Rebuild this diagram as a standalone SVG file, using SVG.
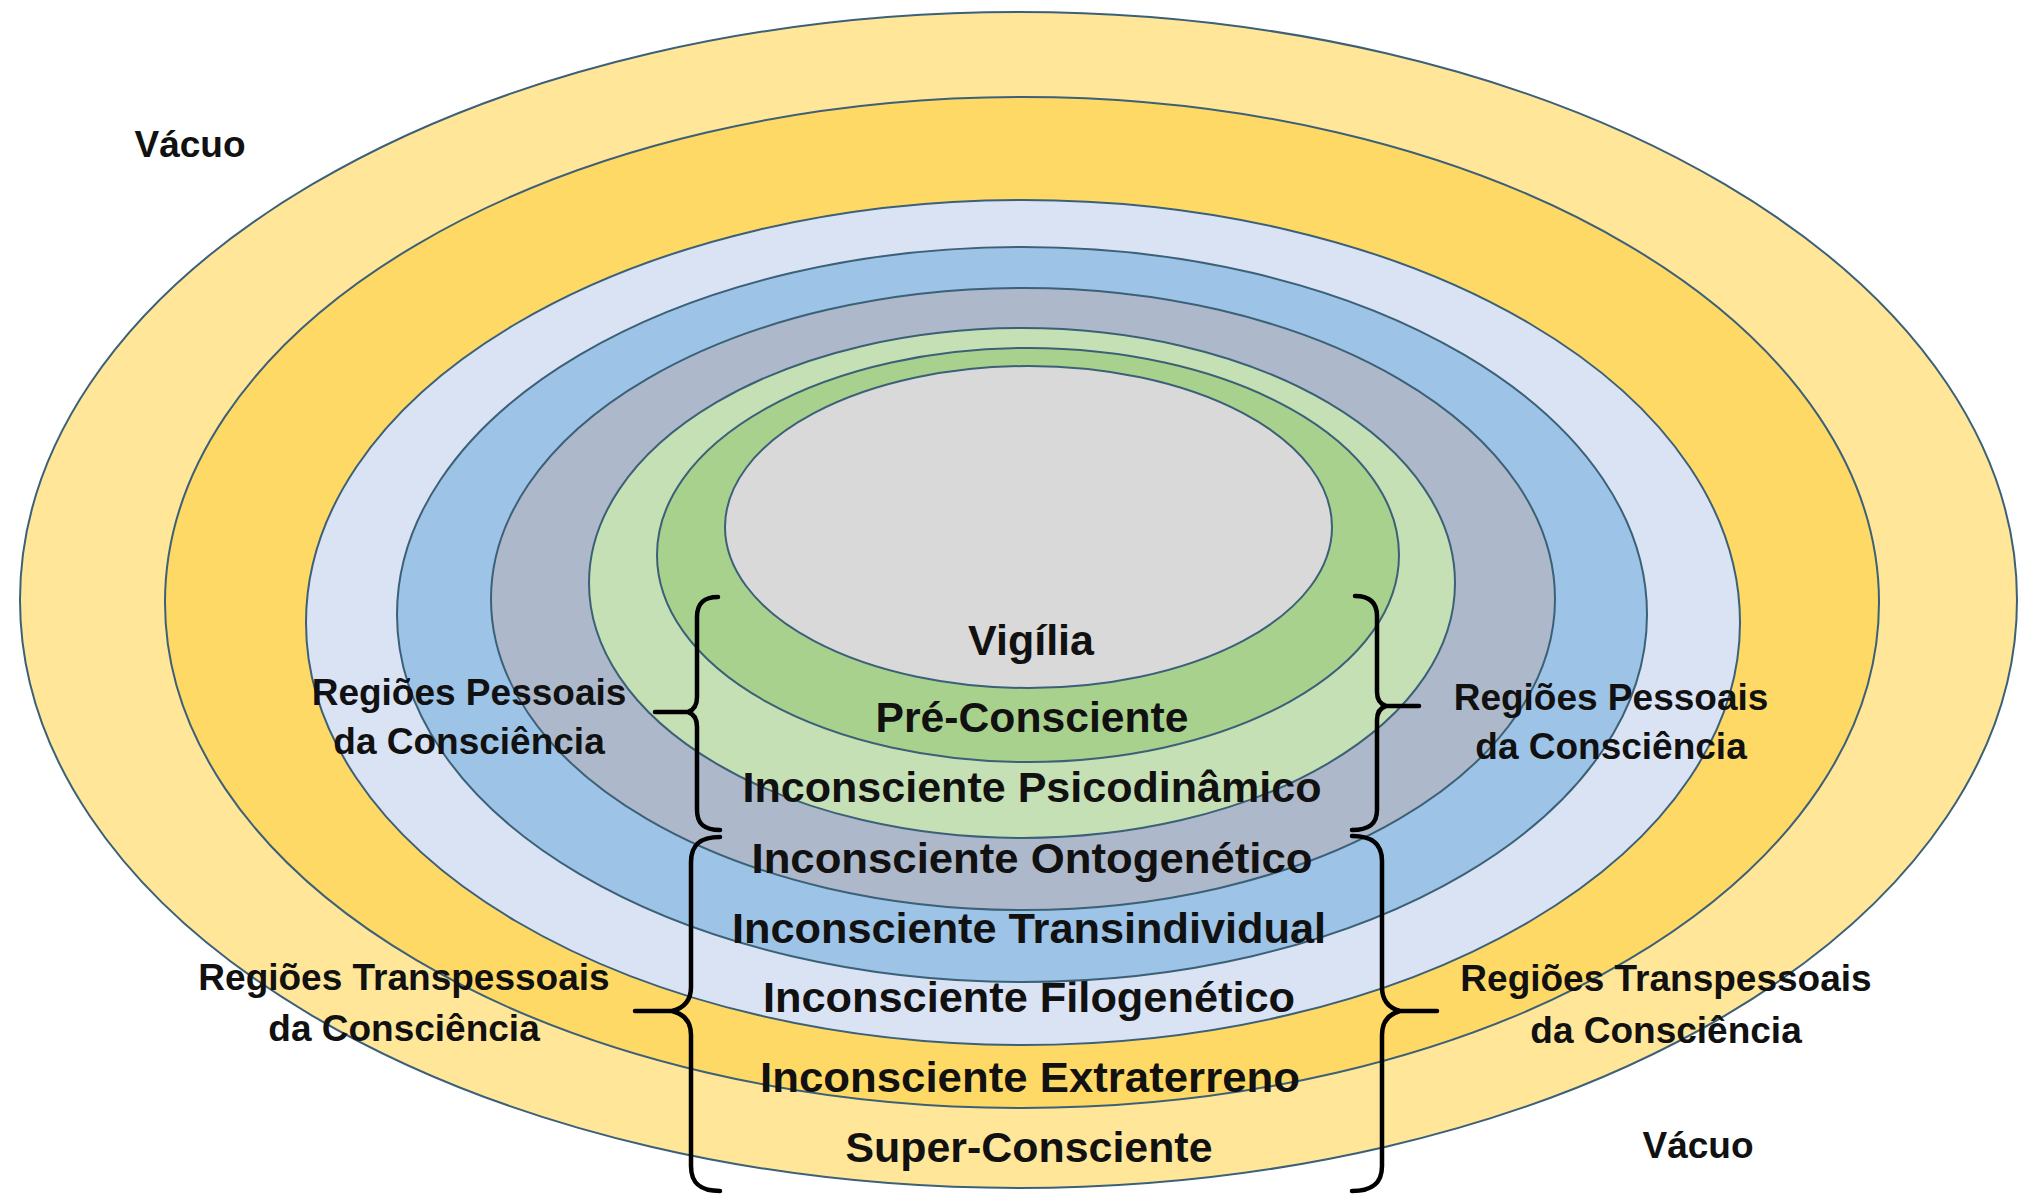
<svg xmlns="http://www.w3.org/2000/svg" width="2023" height="1195" viewBox="0 0 2023 1195">
  <style>
    .ring { stroke: #3B6078; stroke-width: 2; }
    .lbl { font-family: "Liberation Sans", Arial, sans-serif; font-weight: bold; fill: #111; text-anchor: middle; }
    .main { font-size: 43px; }
    .side { font-size: 37px; }
    .brace { fill: none; stroke: #000; stroke-width: 4.5; stroke-linecap: round; stroke-linejoin: round; }
  </style>
  <rect x="0" y="0" width="2023" height="1195" fill="#FFFFFF"/>

  <g id="ring-super-consciente">
    <ellipse class="ring" cx="1018.5" cy="600" rx="998.5" ry="588" fill="#FFE699"/>
    <text class="lbl main" x="1029" y="1162" textLength="367" lengthAdjust="spacingAndGlyphs">Super-Consciente</text>
  </g>
  <g id="ring-extraterreno">
    <ellipse class="ring" cx="1022" cy="602.5" rx="857" ry="505.5" fill="#FFD966"/>
    <text class="lbl main" x="1030" y="1092" textLength="540" lengthAdjust="spacingAndGlyphs">Inconsciente Extraterreno</text>
  </g>
  <g id="ring-filogenetico">
    <ellipse class="ring" cx="1023" cy="622.5" rx="717" ry="422.5" fill="#DAE3F3"/>
    <text class="lbl main" x="1029" y="1012" textLength="532" lengthAdjust="spacingAndGlyphs">Inconsciente Filogenético</text>
  </g>
  <g id="ring-transindividual">
    <ellipse class="ring" cx="1022" cy="614.5" rx="625" ry="367.5" fill="#9DC3E6"/>
    <text class="lbl main" x="1029" y="943" textLength="594" lengthAdjust="spacingAndGlyphs">Inconsciente Transindividual</text>
  </g>
  <g id="ring-ontogenetico">
    <ellipse class="ring" cx="1023" cy="599" rx="532" ry="311" fill="#ADB9CA"/>
    <text class="lbl main" x="1032" y="873" textLength="561" lengthAdjust="spacingAndGlyphs">Inconsciente Ontogenético</text>
  </g>
  <g id="ring-psicodinamico">
    <ellipse class="ring" cx="1022" cy="583" rx="433" ry="255" fill="#C5E0B4"/>
    <text class="lbl main" x="1032" y="802" textLength="579" lengthAdjust="spacingAndGlyphs">Inconsciente Psicodinâmico</text>
  </g>
  <g id="ring-pre-consciente">
    <ellipse class="ring" cx="1028" cy="555" rx="371" ry="207" fill="#A9D18E"/>
    <text class="lbl main" x="1032" y="732" textLength="313" lengthAdjust="spacingAndGlyphs">Pré-Consciente</text>
  </g>
  <g id="ring-vigilia">
    <ellipse class="ring" cx="1028.5" cy="527" rx="303.5" ry="161" fill="#D9D9D9"/>
    <text class="lbl main" x="1031" y="655">Vigília</text>
  </g>

  <g id="connectors">
    <path id="brace-left-pessoais" class="brace" d="M718,597 C704,597 697,603 697,617 L697,697 C697,705 694,710 688,712 C694,714 697,719 697,727 L697,810 C697,824 704,830 720,830 M655,712 L688,712"/>
    <path id="brace-left-transpessoais" class="brace" d="M720,837 C702,837 691,843 691,862 L691,987 C691,1000 684,1008 672,1011 C684,1014 691,1022 691,1035 L691,1166 C691,1185 702,1191 720,1191 M635,1011 L672,1011"/>
    <path id="brace-right-pessoais" class="brace" d="M1355,596 C1369,596 1377,602 1377,616 L1377,692 C1377,700 1380,704 1386,706 C1380,708 1377,712 1377,720 L1377,810 C1377,824 1369,830 1352,830 M1386,706 L1419,706"/>
    <path id="brace-right-transpessoais" class="brace" d="M1352,836 C1370,836 1382,842 1382,861 L1382,987 C1382,1000 1389,1008 1400,1011 C1389,1014 1382,1022 1382,1035 L1382,1166 C1382,1185 1370,1191 1352,1191 M1400,1011 L1437,1011"/>
  </g>

  <g id="label-left-pessoais">
    <text class="lbl side" x="469" y="705">Regiões Pessoais</text>
    <text class="lbl side" x="469" y="754">da Consciência</text>
  </g>
  <g id="label-right-pessoais">
    <text class="lbl side" x="1611" y="710">Regiões Pessoais</text>
    <text class="lbl side" x="1611" y="759">da Consciência</text>
  </g>
  <g id="label-left-transpessoais">
    <text class="lbl side" x="404" y="990">Regiões Transpessoais</text>
    <text class="lbl side" x="404" y="1041">da Consciência</text>
  </g>
  <g id="label-right-transpessoais">
    <text class="lbl side" x="1666" y="991">Regiões Transpessoais</text>
    <text class="lbl side" x="1666" y="1043">da Consciência</text>
  </g>
  <g id="label-vacuo-top">
    <text class="lbl side" x="190" y="157">Vácuo</text>
  </g>
  <g id="label-vacuo-bottom">
    <text class="lbl side" x="1698" y="1158">Vácuo</text>
  </g>
</svg>
